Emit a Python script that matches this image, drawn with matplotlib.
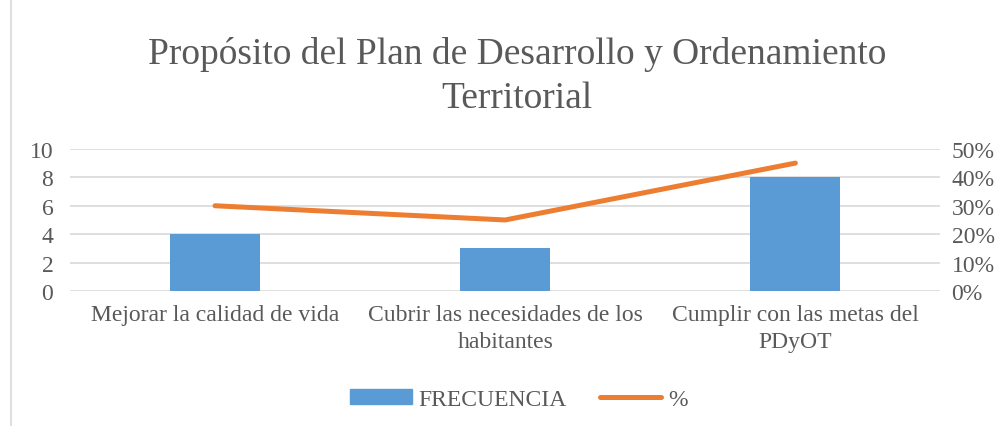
import matplotlib
matplotlib.use("Agg")
import matplotlib.pyplot as plt
from matplotlib.lines import Line2D
from matplotlib.patches import Patch, Rectangle
from matplotlib.ticker import PercentFormatter

categories = ["Mejorar la calidad de vida", "Cubrir las necesidades de los\nhabitantes", "Cumplir con las metas del\nPDyOT"]
frecuencia = [4, 3, 8]
porcentaje = [0.30, 0.25, 0.45]

plt.rcParams['font.family'] = ['Liberation Serif', 'DejaVu Serif']
gray = '#595959'

fig = plt.figure(figsize=(10.08, 4.27), dpi=100)
ax = fig.add_axes([0.0694, 0.316, 0.8636, 0.333])
x = list(range(len(categories)))
ax.bar(x, frecuencia, width=0.31, color='#5B9BD5', zorder=3)
ax.set_xlim(-0.5, 2.5)
ax.set_ylim(0, 10)
ax.set_yticks(range(0, 11, 2))
ax.grid(axis='y', color='#D9D9D9', linewidth=1.2, zorder=0)
for s in ax.spines.values():
    s.set_visible(False)
ax.tick_params(axis='both', length=0, labelsize=17, labelcolor=gray)
ax.tick_params(axis='y', pad=12)
ax.set_xticks(x)
ax.set_xticklabels(categories, linespacing=1.4)
ax.tick_params(axis='x', pad=9)

ax2 = ax.twinx()
ax2.plot(x, porcentaje, color='#ED7D31', linewidth=3.6, solid_capstyle='round', zorder=4)
ax2.set_ylim(0, 0.5)
ax2.set_yticks([0, 0.1, 0.2, 0.3, 0.4, 0.5])
ax2.yaxis.set_major_formatter(PercentFormatter(1.0, decimals=0))
for s in ax2.spines.values():
    s.set_visible(False)
ax2.tick_params(axis='y', length=0, labelsize=17, labelcolor=gray, pad=8)

fig.text(0.513, 0.82, "Propósito del Plan de Desarrollo y Ordenamiento\nTerritorial",
         ha='center', va='center', fontsize=27, color=gray, linespacing=1.35)

handles = [Patch(color='#5B9BD5'), Line2D([0], [0], color='#ED7D31', linewidth=3.6, solid_capstyle='round')]
fig.legend(handles, ["FRECUENCIA", "%"], loc='center', bbox_to_anchor=(0.515, 0.063), ncol=2,
           frameon=False, fontsize=17, labelcolor=gray, handlelength=2.6, handleheight=0.6,
           columnspacing=1.4, handletextpad=0.3)

fig.add_artist(Rectangle((0.0105, -0.01), 1.0, 1.02, transform=fig.transFigure,
                         fill=False, edgecolor='#D9D9D9', linewidth=1.2))

fig.savefig("out.png", dpi=100)
